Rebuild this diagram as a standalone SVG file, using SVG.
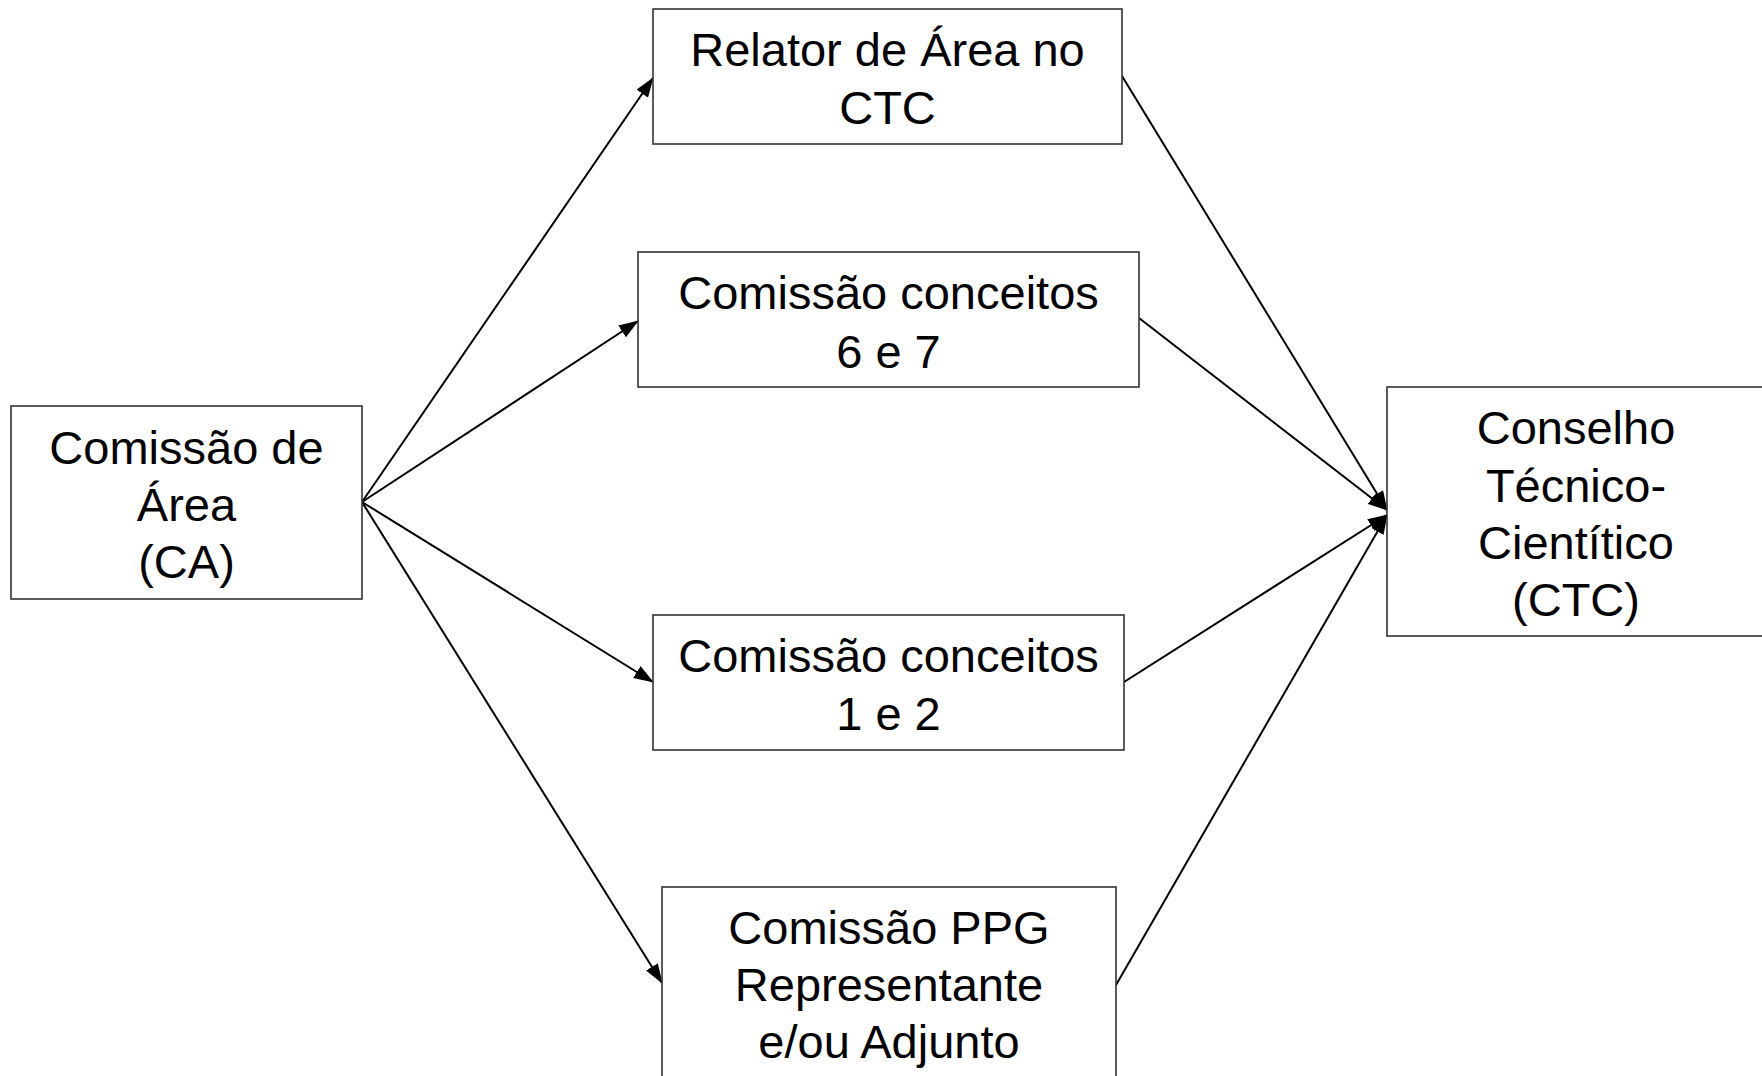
<svg xmlns="http://www.w3.org/2000/svg" width="1762" height="1076" viewBox="0 0 1762 1076">
<style>
.box{fill:#fff;stroke:#333;stroke-width:1.6}
.lbl{font-family:"Liberation Sans",Arial,sans-serif;font-size:47px;fill:#000;text-anchor:middle}
.conn{stroke:#000;stroke-width:2;fill:none}
</style>
<defs>
<marker id="ah" markerUnits="userSpaceOnUse" markerWidth="20" markerHeight="14" refX="19" refY="7" orient="auto">
<path d="M0,0 L20,7 L0,14 Z" fill="#000"/>
</marker>
</defs>
<rect width="1762" height="1076" fill="#fff"/>
<g id="connectors">
<line class="conn" x1="362" y1="502" x2="653" y2="78" marker-end="url(#ah)"/>
<line class="conn" x1="362" y1="502" x2="638" y2="321" marker-end="url(#ah)"/>
<line class="conn" x1="362" y1="502" x2="653" y2="682" marker-end="url(#ah)"/>
<line class="conn" x1="362" y1="502" x2="662" y2="983" marker-end="url(#ah)"/>
<line class="conn" x1="1122" y1="76" x2="1387" y2="510" marker-end="url(#ah)"/>
<line class="conn" x1="1139" y1="318" x2="1387" y2="510" marker-end="url(#ah)"/>
<line class="conn" x1="1124" y1="682" x2="1387" y2="515" marker-end="url(#ah)"/>
<line class="conn" x1="1116" y1="985" x2="1387" y2="515" marker-end="url(#ah)"/>
</g>
<g id="node-ca">
<rect class="box" x="11" y="406" width="351" height="193"/>
<text class="lbl" x="186.5" y="464">Comissão de</text>
<text class="lbl" x="186.5" y="521">Área</text>
<text class="lbl" x="186.5" y="578">(CA)</text>
</g>
<g id="node-relator">
<rect class="box" x="653" y="9" width="469" height="135"/>
<text class="lbl" x="887.5" y="66">Relator de Área no</text>
<text class="lbl" x="887.5" y="124">CTC</text>
</g>
<g id="node-c67">
<rect class="box" x="638" y="252" width="501" height="135"/>
<text class="lbl" x="888.5" y="309">Comissão conceitos</text>
<text class="lbl" x="888.5" y="368">6 e 7</text>
</g>
<g id="node-c12">
<rect class="box" x="653" y="615" width="471" height="135"/>
<text class="lbl" x="888.5" y="672">Comissão conceitos</text>
<text class="lbl" x="888.5" y="730">1 e 2</text>
</g>
<g id="node-ppg">
<rect class="box" x="662" y="887" width="454" height="210"/>
<text class="lbl" x="889" y="944">Comissão PPG</text>
<text class="lbl" x="889" y="1001">Representante</text>
<text class="lbl" x="889" y="1058">e/ou Adjunto</text>
</g>
<g id="node-ctc">
<rect class="box" x="1387" y="387" width="380" height="249"/>
<text class="lbl" x="1576" y="444">Conselho</text>
<text class="lbl" x="1576" y="502">Técnico-</text>
<text class="lbl" x="1576" y="559">Cientítico</text>
<text class="lbl" x="1576" y="616">(CTC)</text>
</g>
</svg>
